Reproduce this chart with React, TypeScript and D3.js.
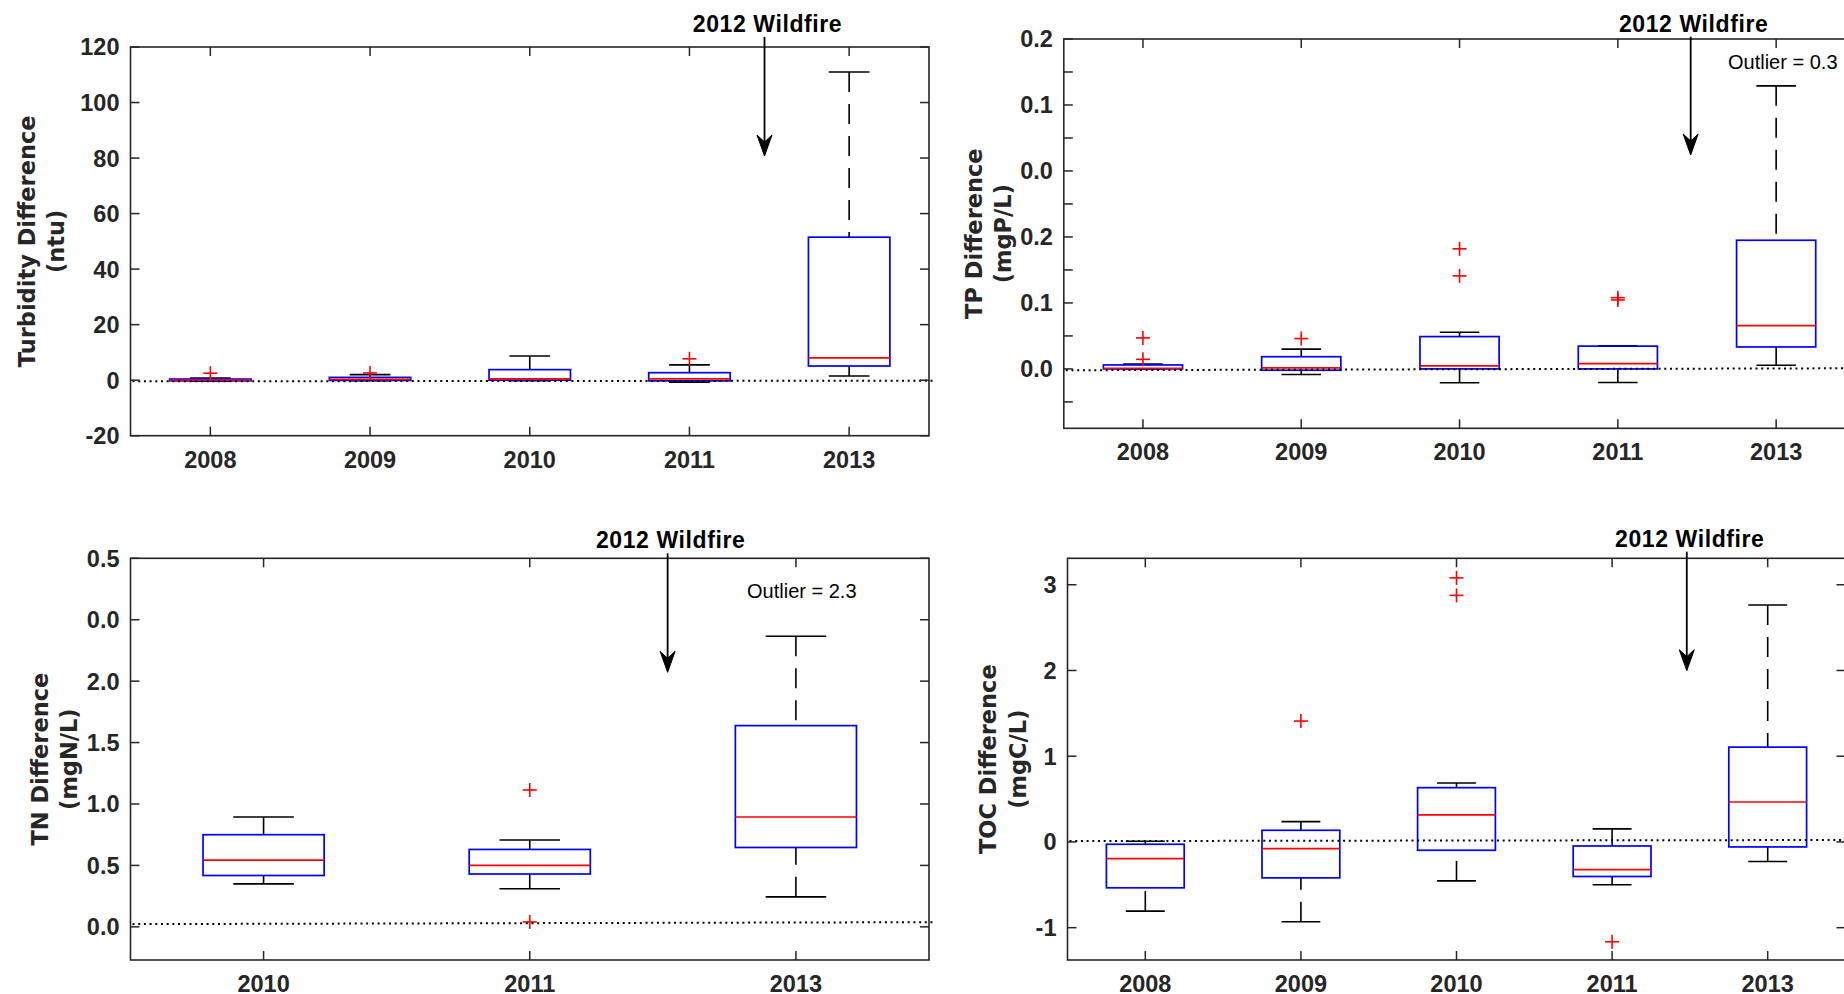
import React from "react";
import * as d3 from "d3";

// ---- Category labels ----
const yearsFive = ["2008", "2009", "2010", "2011", "2013"];
const yearsThree = ["2010", "2011", "2013"];

// ---- Turbidity difference (ntu) ----
const turbLow = [-0.4, -0.2, -0.2, -0.7, 1.5];
const turbQ1 = [-0.25, -0.1, 0.0, -0.25, 5.1];
const turbMedian = [0.05, 0.3, 0.5, 0.5, 8.0];
const turbQ3 = [0.4, 1.0, 3.8, 2.7, 51.5];
const turbHigh = [0.8, 2.0, 8.7, 5.5, 111];
const turbOutliers = [[2.5], [2.6], [], [7.7], []];
const turbTicks = [-20, 0, 20, 40, 60, 80, 100, 120];
const turbTickLabels = ["-20", "0", "20", "40", "60", "80", "100", "120"];
const turbZero = [-0.4, -0.2];

// ---- TP difference (mgP/L) ----
const tpLow = [0.0, -0.0085, -0.021, -0.0205, 0.0055];
const tpQ1 = [0.0, -0.002, 0.0, 0.0, 0.0333];
const tpMedian = [0.001, 0.0015, 0.0045, 0.008, 0.0656];
const tpQ3 = [0.006, 0.0185, 0.049, 0.0345, 0.195];
const tpHigh = [0.0075, 0.03, 0.0555, 0.035, 0.429];
const tpOutliers = [[0.047, 0.0145], [0.046], [0.182, 0.141], [0.108, 0.1045], []];
const tpTicks = [0, 0.1, 0.2, 0.3, 0.4, 0.5];
const tpTickLabels = ["0.0", "0.1", "0.2", "0.0", "0.1", "0.2"];
const tpMinorTicks = [-0.05, 0.05, 0.15, 0.25, 0.35, 0.45];
const tpZero = [-0.002, 0.001];

// ---- TN difference (mgN/L) ----
const tnLow = [0.35, 0.31, 0.244];
const tnQ1 = [0.418, 0.43, 0.646];
const tnMedian = [0.543, 0.5, 0.894];
const tnQ3 = [0.75, 0.63, 1.638];
const tnHigh = [0.894, 0.707, 2.366];
const tnOutliers = [[], [1.114, 0.04], []];
const tnTicks = [0, 0.5, 1.0, 1.5, 2.0, 2.5, 3.0];
const tnTickLabels = ["0.0", "0.5", "1.0", "1.5", "2.0", "0.0", "0.5"];
const tnZero = [0.022, 0.038];

// ---- TOC difference (mgC/L) ----
const tocLow = [-0.807, -0.93, -0.454, -0.5, -0.228];
const tocQ1 = [-0.535, -0.419, -0.097, -0.403, -0.058];
const tocMedian = [-0.194, -0.077, 0.315, -0.322, 0.466];
const tocQ3 = [-0.027, 0.136, 0.633, -0.047, 1.106];
const tocHigh = [0.008, 0.237, 0.687, 0.152, 2.764];
const tocOutliers = [[], [1.41], [3.08, 2.876], [-1.164], []];
const tocTicks = [-1, 0, 1, 2, 3];
const tocTickLabels = ["-1", "0", "1", "2", "3"];
const tocZero = [0.01, 0.023];

const AXIS = "#262626";
const TICK_FONT = "'Liberation Sans', Arial, Helvetica, sans-serif";
const LABEL_FONT = "'DejaVu Sans', Verdana, sans-serif";

type PanelProps = {
  cats: string[];
  low: number[];
  q1: number[];
  median: number[];
  q3: number[];
  high: number[];
  outliers: number[][];
  ticks: number[];
  tickLabels: string[];
  minorTicks?: number[];
  zero: number[];
  yDomain: [number, number];
  left: number;
  right: number;
  top: number;
  bottom: number;
  boxFrac: number;
  yLabel: [string, string];
  yLabelX: [number, number];
  fireAt: number;
  fireTextY: number;
  fireTipY: number;
  note?: { text: string; x: number; y: number; anchor: string };
};

function Panel(p: PanelProps) {
  const n = p.cats.length;
  const x = d3.scaleLinear().domain([0.5, n + 0.5]).range([p.left, p.right]);
  const y = d3.scaleLinear().domain(p.yDomain).range([p.bottom, p.top]);
  const step = x(2) - x(1);
  const boxW = step * p.boxFrac;
  const capW = boxW / 2;
  const tickLen = 9;
  const midY = (p.top + p.bottom) / 2;
  const fx = x(p.fireAt);

  return (
    <g>
      {/* whiskers and caps */}
      {p.cats.map((c, i) => {
        const cx = x(i + 1);
        return (
          <g key={"w" + c}>
            <line x1={cx} x2={cx} y1={y(p.high[i])} y2={y(p.q3[i])} stroke="#000" strokeWidth={1.6} strokeDasharray="20 12" />
            <line x1={cx} x2={cx} y1={y(p.low[i])} y2={y(p.q1[i])} stroke="#000" strokeWidth={1.6} strokeDasharray="20 12" />
            <line x1={cx - capW / 2} x2={cx + capW / 2} y1={y(p.high[i])} y2={y(p.high[i])} stroke="#000" strokeWidth={1.6} />
            <line x1={cx - capW / 2} x2={cx + capW / 2} y1={y(p.low[i])} y2={y(p.low[i])} stroke="#000" strokeWidth={1.6} />
          </g>
        );
      })}
      {/* boxes and medians */}
      {p.cats.map((c, i) => {
        const cx = x(i + 1);
        const yt = y(p.q3[i]);
        const yb = y(p.q1[i]);
        return (
          <g key={"b" + c}>
            <rect x={cx - boxW / 2} y={yt} width={boxW} height={Math.max(yb - yt, 0.5)} fill="none" stroke="#0000ff" strokeWidth={1.7} />
            <line x1={cx - boxW / 2} x2={cx + boxW / 2} y1={y(p.median[i])} y2={y(p.median[i])} stroke="#ff0000" strokeWidth={1.7} />
          </g>
        );
      })}
      {/* outliers */}
      {p.cats.map((c, i) =>
        p.outliers[i].map((v, k) => {
          const cx = x(i + 1);
          const cy = y(v);
          return (
            <g key={"o" + c + k} stroke="#ff0000" strokeWidth={1.6}>
              <line x1={cx - 7} x2={cx + 7} y1={cy} y2={cy} />
              <line x1={cx} x2={cx} y1={cy - 7} y2={cy + 7} />
            </g>
          );
        })
      )}
      {/* zero reference line */}
      <line
        x1={p.left + 2}
        x2={p.right + 6}
        y1={y(p.zero[0])}
        y2={y(p.zero[1])}
        stroke="#000"
        strokeWidth={2}
        strokeDasharray="2 3.7"
      />
      {/* axes frame */}
      <rect x={p.left} y={p.top} width={p.right - p.left} height={p.bottom - p.top} fill="none" stroke={AXIS} strokeWidth={1.6} />
      {/* x ticks top and bottom */}
      {p.cats.map((c, i) => {
        const cx = x(i + 1);
        return (
          <g key={"xt" + c}>
            <line x1={cx} x2={cx} y1={p.bottom} y2={p.bottom - tickLen} stroke={AXIS} strokeWidth={1.5} />
            <line x1={cx} x2={cx} y1={p.top} y2={p.top + tickLen} stroke={AXIS} strokeWidth={1.5} />
            <text x={cx} y={p.bottom + 32} textAnchor="middle" fontFamily={TICK_FONT} fontWeight="bold" fontSize={23.5} fill="#262626">
              {c}
            </text>
          </g>
        );
      })}
      {/* y ticks left and right */}
      {p.ticks.map((t, i) => (
        <g key={"yt" + i}>
          <line x1={p.left} x2={p.left + tickLen} y1={y(t)} y2={y(t)} stroke={AXIS} strokeWidth={1.5} />
          <line x1={p.right} x2={p.right - tickLen} y1={y(t)} y2={y(t)} stroke={AXIS} strokeWidth={1.5} />
          <text x={p.left - 11} y={y(t)} dy="0.36em" textAnchor="end" fontFamily={TICK_FONT} fontWeight="bold" fontSize={23.5} fill="#262626">
            {p.tickLabels[i]}
          </text>
        </g>
      ))}
      {(p.minorTicks || []).map((t, i) => (
        <g key={"ym" + i}>
          <line x1={p.left} x2={p.left + tickLen} y1={y(t)} y2={y(t)} stroke={AXIS} strokeWidth={1.5} />
          <line x1={p.right} x2={p.right - tickLen} y1={y(t)} y2={y(t)} stroke={AXIS} strokeWidth={1.5} />
        </g>
      ))}
      {/* y-axis title, two lines */}
      {p.yLabel.map((s, k) => (
        <text
          key={"yl" + k}
          transform={`translate(${p.yLabelX[k]},${midY}) rotate(-90)`}
          textAnchor="middle"
          fontFamily={LABEL_FONT}
          fontWeight="bold"
          fontSize={22.5}
          fill="#262626"
        >
          {s}
        </text>
      ))}
      {/* wildfire annotation */}
      <text x={fx + 3} y={p.fireTextY} textAnchor="middle" fontFamily={TICK_FONT} fontWeight="bold" fontSize={23} letterSpacing={0.6} fill="#000">
        2012 Wildfire
      </text>
      <line x1={fx} x2={fx} y1={p.fireTextY + 5} y2={p.fireTipY - 10} stroke="#000" strokeWidth={1.8} />
      <path
        d={`M${fx},${p.fireTipY} L${fx - 7.5},${p.fireTipY - 21} L${fx},${p.fireTipY - 14} L${fx + 7.5},${p.fireTipY - 21} Z`}
        fill="#000"
        stroke="#000"
        strokeWidth={1}
        strokeLinejoin="miter"
      />
      {p.note && (
        <text x={p.note.x} y={p.note.y} textAnchor={p.note.anchor as any} fontFamily={TICK_FONT} fontSize={20} fill="#000">
          {p.note.text}
        </text>
      )}
    </g>
  );
}

export default function App() {
  return (
    <svg
      width={1844}
      height={994}
      viewBox="0 0 1844 994"
      style={{ position: "absolute", left: 0, top: 0, display: "block", background: "#fff" }}
    >
      <rect x={0} y={0} width={1844} height={994} fill="#fff" />
      <Panel
        cats={yearsFive}
        low={turbLow}
        q1={turbQ1}
        median={turbMedian}
        q3={turbQ3}
        high={turbHigh}
        outliers={turbOutliers}
        ticks={turbTicks}
        tickLabels={turbTickLabels}
        zero={turbZero}
        yDomain={[-20, 120]}
        left={130.5}
        right={929}
        top={47}
        bottom={435.7}
        boxFrac={0.51}
        yLabel={["Turbidity Difference", "(ntu)"]}
        yLabelX={[35, 64]}
        fireAt={4.47}
        fireTextY={32}
        fireTipY={156}
      />
      <Panel
        cats={yearsFive}
        low={tpLow}
        q1={tpQ1}
        median={tpMedian}
        q3={tpQ3}
        high={tpHigh}
        outliers={tpOutliers}
        ticks={tpTicks}
        tickLabels={tpTickLabels}
        minorTicks={tpMinorTicks}
        zero={tpZero}
        yDomain={[-0.09, 0.5]}
        left={1063.8}
        right={1855.3}
        top={39}
        bottom={428.3}
        boxFrac={0.5}
        yLabel={["TP Difference", "(mgP/L)"]}
        yLabelX={[981.5, 1011]}
        fireAt={4.46}
        fireTextY={31.7}
        fireTipY={155}
        note={{ text: "Outlier = 0.3", x: 1728, y: 69, anchor: "start" }}
      />
      <Panel
        cats={yearsThree}
        low={tnLow}
        q1={tnQ1}
        median={tnMedian}
        q3={tnQ3}
        high={tnHigh}
        outliers={tnOutliers}
        ticks={tnTicks}
        tickLabels={tnTickLabels}
        zero={tnZero}
        yDomain={[-0.27, 3.0]}
        left={130.5}
        right={929}
        top={558.3}
        bottom={960}
        boxFrac={0.455}
        yLabel={["TN Difference", "(mgN/L)"]}
        yLabelX={[48, 77]}
        fireAt={2.518}
        fireTextY={548.3}
        fireTipY={672.3}
        note={{ text: "Outlier = 2.3", x: 801.8, y: 598, anchor: "middle" }}
      />
      <Panel
        cats={yearsFive}
        low={tocLow}
        q1={tocQ1}
        median={tocMedian}
        q3={tocQ3}
        high={tocHigh}
        outliers={tocOutliers}
        ticks={tocTicks}
        tickLabels={tocTickLabels}
        zero={tocZero}
        yDomain={[-1.377, 3.3085]}
        left={1067.5}
        right={1845.5}
        top={558.3}
        bottom={960}
        boxFrac={0.5}
        yLabel={["TOC Difference", "(mgC/L)"]}
        yLabelX={[996, 1026]}
        fireAt={4.48}
        fireTextY={546.7}
        fireTipY={670.7}
      />
    </svg>
  );
}
